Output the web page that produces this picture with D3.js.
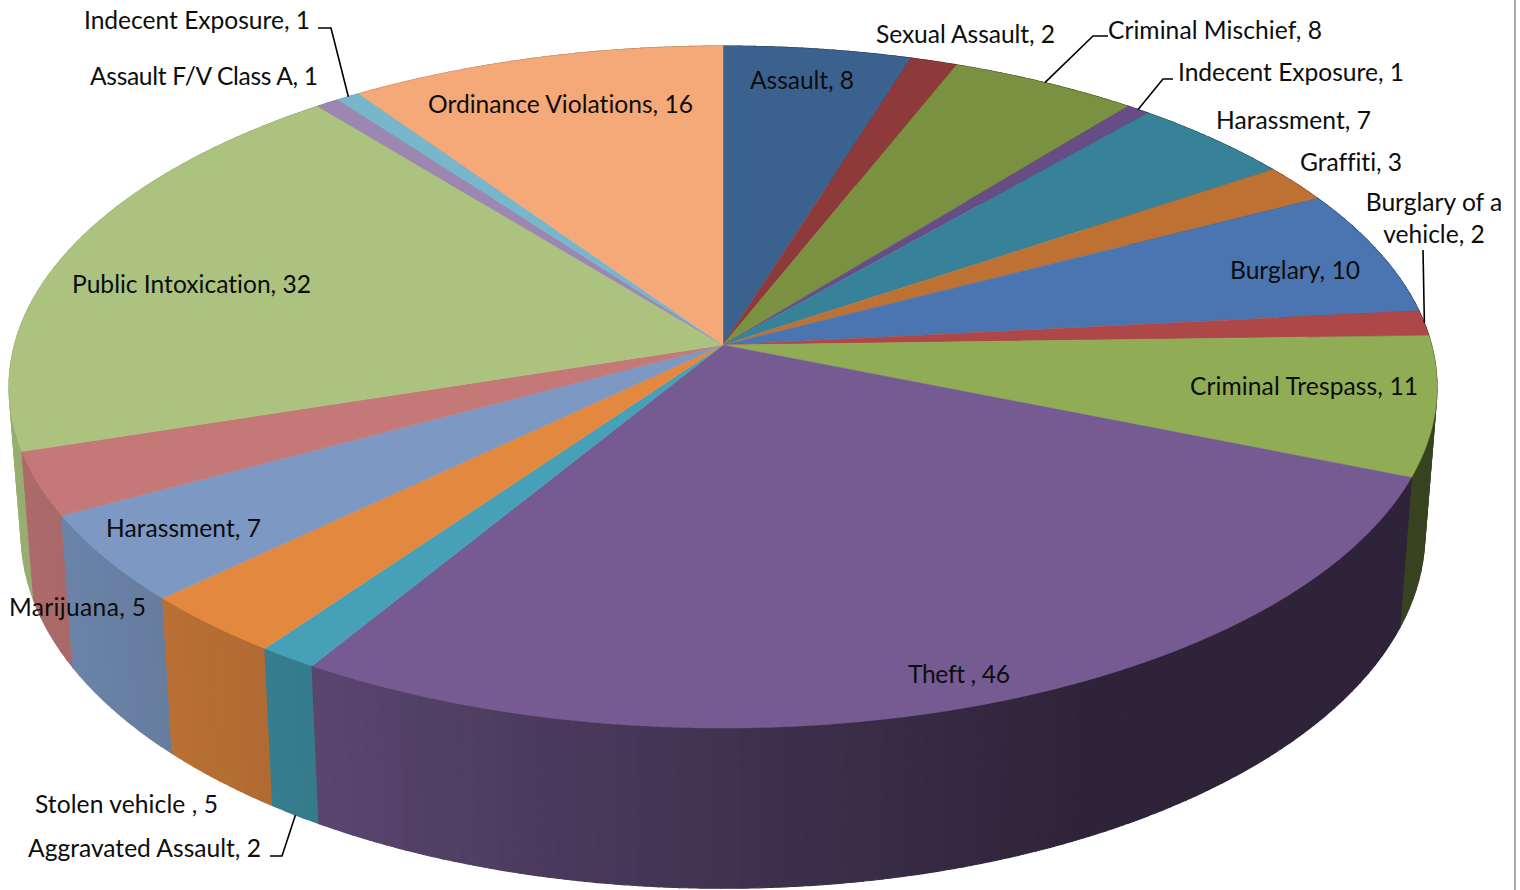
<!DOCTYPE html>
<html><head><meta charset="utf-8">
<style>html,body{margin:0;padding:0;background:#fff;overflow:hidden}svg{display:block}text{font-family:Lato,"Open Sans",sans-serif;font-size:24.6px;fill:#0d0d0d;font-variant-ligatures:none}</style>
<script src="https://cdn.jsdelivr.net/npm/d3@7/dist/d3.min.js"></script>
</head><body><svg id="c" width="1520" height="890"></svg>
<script>
const categories=["Assault","Sexual Assault","Criminal Mischief","Indecent Exposure","Harassment","Graffiti","Burglary","Burglary of a vehicle","Criminal Trespass","Theft ","Aggravated Assault","Stolen vehicle ","Harassment","Marijuana","Public Intoxication","Assault F/V Class A","Indecent Exposure","Ordinance Violations"];
const values=[8,2,8,1,7,3,10,2,11,46,2,5,7,5,32,1,1,16];
const colors=["#3b618f","#8f3a3a","#799141","#664d85","#388299","#bd7233","#4a75b0","#ae4848","#90ac55","#765b92","#46a1b8","#e3883f","#7c98c3","#c47878","#abc37f","#9b87b2","#78b6cc","#f5a878"];
// label layout: x, baseline y, text width (the wrapped label is centred instead)
const labelPos=[[750,89,104],[876,43,179],[1108,39,214],[1178,81,226],[1216,129,155],[1300,171,102],[1230,279,130],[1434,211,0],[1190,395,228],[908,683,102],[28,857,233],[35,813,183],[106,537,155],[9,616,137],[72,293,239],[90,85,228],[84,29,226],[428,113,265]];
// leader lines: slice index, elbow points, whether it ends on the lower rim
const leaders=[{i:2,pts:[[1108,36],[1093,36]]},{i:3,pts:[[1173,79],[1163,79]]},{i:7,pts:[[1423,250]]},{i:10,pts:[[270,856],[282,856]],lower:true},{i:16,pts:[[318,28],[331,28]]}];

const cx=723,cy=345,a=708.6,b=335.8,k=0.1232;
const lowerX=0.983,lowerY=1.04,lowerCy=490;
function rim(t){const s=Math.sin(t),c=-Math.cos(t),w=1-k*c;return [cx+a*s/w,cy+b*c/w];}
function low(t){const p=rim(t);return [cx+(p[0]-cx)*lowerX,lowerCy+(p[1]-cy)*lowerY];}
const shade=d3.scaleLinear().domain([-1,-0.55,0,0.45,1]).range([0.9,0.77,0.55,0.39,0.39]);
const svg=d3.select("#c");
const arcs=d3.pie().sort(null).startAngle(0).endAngle(2*Math.PI)(values);
const line=d3.line();
const STEP=Math.PI/180;
function samples(a0,a1,step){const n=Math.max(2,Math.ceil((a1-a0)/step));return d3.range(n+1).map(j=>a0+(a1-a0)*j/n);}

// side wall: shaded panels painted from back to front
const strips=[];
arcs.forEach((d,i)=>{
  const ts=samples(d.startAngle,d.endAngle,STEP*1.5);
  for(let j=0;j<ts.length-1;j++)strips.push({t0:ts[j],t1:ts[j+1],i});
});
strips.sort((p,q)=>rim((p.t0+p.t1)/2)[1]-rim((q.t0+q.t1)/2)[1]);
const wall=(t0,t1)=>{const ts=samples(t0,t1,STEP/4);return line([...ts.map(rim),...ts.slice().reverse().map(low)])+"Z";};
svg.append("g").selectAll("path").data(strips).join("path")
  .attr("d",s=>wall(s.t0,s.t1))
  .each(function(s){
    const f=shade(Math.sin((s.t0+s.t1)/2)),c=d3.rgb(colors[s.i]);
    const col=d3.rgb(c.r*f,c.g*f,c.b*f).formatHex();
    d3.select(this).attr("fill",col).attr("stroke",col).attr("stroke-width",1.1);
  });
// top face
svg.append("g").selectAll("path").data(arcs).join("path")
  .attr("d",d=>line([[cx,cy],...samples(d.startAngle,d.endAngle,STEP/2).map(rim)])+"Z")
  .attr("fill",(d,i)=>colors[i]).attr("stroke",(d,i)=>colors[i]).attr("stroke-width",0.5);
// leaders
svg.append("g").selectAll("path").data(leaders).join("path")
  .attr("d",l=>{const d=arcs[l.i],m=(d.startAngle+d.endAngle)/2;return line([...l.pts,(l.lower?low:rim)(m)]);})
  .attr("fill","none").attr("stroke","#000").attr("stroke-width",1.6);
// labels
const g=svg.append("g");
categories.forEach((n,i)=>{
  const p=labelPos[i],t=g.append("text").attr("x",p[0]).attr("y",p[1]);
  if(n==="Burglary of a vehicle"){
    t.attr("text-anchor","middle");
    t.append("tspan").attr("x",p[0]).text("Burglary of a");
    t.append("tspan").attr("x",p[0]).attr("dy",32).text("vehicle, "+values[i]);
  } else t.text(n+", "+values[i]).attr("textLength",p[2]).attr("lengthAdjust","spacing");
});
// frame rule at the right edge
svg.append("line").attr("x1",1515).attr("x2",1515).attr("y1",0).attr("y2",890).attr("stroke","#aaaaaa").attr("stroke-width",2);
</script></body></html>
